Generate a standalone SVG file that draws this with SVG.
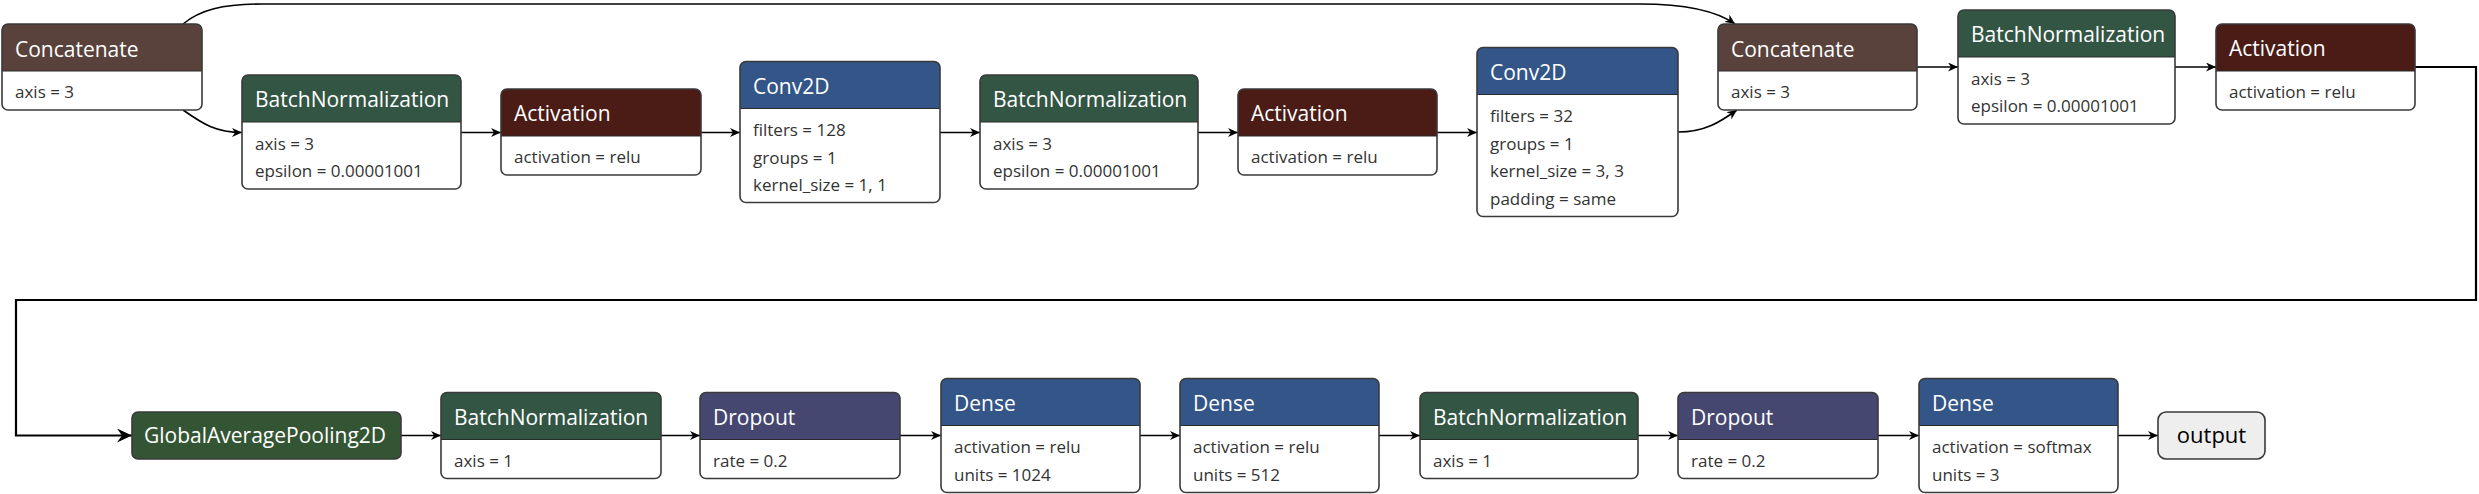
<svg xmlns="http://www.w3.org/2000/svg" width="2479" height="494" viewBox="0 0 2479 494">
<defs>
<style>
.body{fill:#fff;stroke:none}
.frame{fill:none;stroke:#3a3a3a;stroke-width:1.6}
.sep{stroke:#2a2a2a;stroke-width:1.2}
.c-concat{fill:#59423b}
.c-norm{fill:#335544}
.c-act{fill:#4b1b16}
.c-layer{fill:#335588}
.c-drop{fill:#454770}
.c-pool{fill:#335533}
.t{font-family:"Open Sans","Noto Sans",sans-serif;font-size:21px;fill:#fff}
.p{font-family:"Open Sans","Noto Sans",sans-serif;font-size:17px;fill:#333}
.o{font-family:"Open Sans","Noto Sans",sans-serif;font-size:22px;fill:#000;text-anchor:middle}
.edge{fill:none;stroke:#000;stroke-width:1.6}
.edge2{fill:none;stroke:#000;stroke-width:2.2}
</style>
<marker id="arr" markerUnits="userSpaceOnUse" markerWidth="11" markerHeight="9" refX="10" refY="4.5" orient="auto" viewBox="0 0 11 9">
<path d="M0,0 L10,4.5 L0,9 L3,4.5 Z" fill="#000"/>
</marker>
<marker id="arrBig" markerUnits="userSpaceOnUse" markerWidth="16" markerHeight="14" refX="15" refY="7" orient="auto" viewBox="0 0 16 14">
<path d="M0,0 L15,7 L0,14 L5,7 Z" fill="#000"/>
</marker>
</defs>

<g id="edges">
<path class="edge" d="M183,24 C200,10 222,4 262,4 H1640 C1690,4 1718,12 1735,24" marker-end="url(#arr)"/>
<path class="edge" d="M183,110 C203,124 216,132.5 242,132.5" marker-end="url(#arr)"/>
<path class="edge" d="M461,132.5 H501" marker-end="url(#arr)"/>
<path class="edge" d="M701,132.5 H740" marker-end="url(#arr)"/>
<path class="edge" d="M940,132.5 H980" marker-end="url(#arr)"/>
<path class="edge" d="M1198,132.5 H1238" marker-end="url(#arr)"/>
<path class="edge" d="M1437,132.5 H1477" marker-end="url(#arr)"/>
<path class="edge" d="M1678,132 C1705,132 1720,122 1737,110" marker-end="url(#arr)"/>
<path class="edge" d="M1917,67 H1958" marker-end="url(#arr)"/>
<path class="edge" d="M2175,67 H2216" marker-end="url(#arr)"/>
<path class="edge2" d="M2415,67 H2476 V300 H16 V435.5 H132" marker-end="url(#arrBig)"/>
<path class="edge" d="M401,435.5 H441" marker-end="url(#arr)"/>
<path class="edge" d="M661,435.5 H700" marker-end="url(#arr)"/>
<path class="edge" d="M900,435.5 H941" marker-end="url(#arr)"/>
<path class="edge" d="M1140,435.5 H1180" marker-end="url(#arr)"/>
<path class="edge" d="M1379,435.5 H1420" marker-end="url(#arr)"/>
<path class="edge" d="M1638,435.5 H1678" marker-end="url(#arr)"/>
<path class="edge" d="M1878,435.5 H1919" marker-end="url(#arr)"/>
<path class="edge" d="M2118,435.5 H2158" marker-end="url(#arr)"/>
</g>

<g id="concat1" transform="translate(2,24)">
<rect class="body" width="200" height="86" rx="6"/>
<path class="c-concat" d="M0,47 V6 Q0,0 6,0 H194 Q200,0 200,6 V47 Z"/>
<line class="sep" x1="0" y1="47" x2="200" y2="47"/>
<rect class="frame" width="200" height="86" rx="6"/>
<text class="t" x="13" y="33">Concatenate</text>
<text class="p" x="13" y="74">axis = 3</text>
</g>

<g id="bn1" transform="translate(242,75)">
<rect class="body" width="219" height="114" rx="6"/>
<path class="c-norm" d="M0,47 V6 Q0,0 6,0 H213 Q219,0 219,6 V47 Z"/>
<line class="sep" x1="0" y1="47" x2="219" y2="47"/>
<rect class="frame" width="219" height="114" rx="6"/>
<text class="t" x="13" y="32">BatchNormalization</text>
<text class="p" x="13" y="74.5">axis = 3</text>
<text class="p" x="13" y="102">epsilon = 0.00001001</text>
</g>

<g id="act1" transform="translate(501,89)">
<rect class="body" width="200" height="86" rx="6"/>
<path class="c-act" d="M0,47 V6 Q0,0 6,0 H194 Q200,0 200,6 V47 Z"/>
<line class="sep" x1="0" y1="47" x2="200" y2="47"/>
<rect class="frame" width="200" height="86" rx="6"/>
<text class="t" x="13" y="32">Activation</text>
<text class="p" x="13" y="74">activation = relu</text>
</g>

<g id="conv1" transform="translate(740,61.5)">
<rect class="body" width="200" height="141" rx="6"/>
<path class="c-layer" d="M0,47 V6 Q0,0 6,0 H194 Q200,0 200,6 V47 Z"/>
<line class="sep" x1="0" y1="47" x2="200" y2="47"/>
<rect class="frame" width="200" height="141" rx="6"/>
<text class="t" x="13" y="32">Conv2D</text>
<text class="p" x="13" y="74.5">filters = 128</text>
<text class="p" x="13" y="102">groups = 1</text>
<text class="p" x="13" y="129.5">kernel_size = 1, 1</text>
</g>

<g id="bn2" transform="translate(980,75)">
<rect class="body" width="218" height="114" rx="6"/>
<path class="c-norm" d="M0,47 V6 Q0,0 6,0 H212 Q218,0 218,6 V47 Z"/>
<line class="sep" x1="0" y1="47" x2="218" y2="47"/>
<rect class="frame" width="218" height="114" rx="6"/>
<text class="t" x="13" y="32">BatchNormalization</text>
<text class="p" x="13" y="74.5">axis = 3</text>
<text class="p" x="13" y="102">epsilon = 0.00001001</text>
</g>

<g id="act2" transform="translate(1238,89)">
<rect class="body" width="199" height="86" rx="6"/>
<path class="c-act" d="M0,47 V6 Q0,0 6,0 H193 Q199,0 199,6 V47 Z"/>
<line class="sep" x1="0" y1="47" x2="199" y2="47"/>
<rect class="frame" width="199" height="86" rx="6"/>
<text class="t" x="13" y="32">Activation</text>
<text class="p" x="13" y="74">activation = relu</text>
</g>

<g id="conv2" transform="translate(1477,47.5)">
<rect class="body" width="201" height="169" rx="6"/>
<path class="c-layer" d="M0,47 V6 Q0,0 6,0 H195 Q201,0 201,6 V47 Z"/>
<line class="sep" x1="0" y1="47" x2="201" y2="47"/>
<rect class="frame" width="201" height="169" rx="6"/>
<text class="t" x="13" y="32">Conv2D</text>
<text class="p" x="13" y="74.5">filters = 32</text>
<text class="p" x="13" y="102">groups = 1</text>
<text class="p" x="13" y="129.5">kernel_size = 3, 3</text>
<text class="p" x="13" y="157">padding = same</text>
</g>

<g id="concat2" transform="translate(1718,24)">
<rect class="body" width="199" height="86" rx="6"/>
<path class="c-concat" d="M0,47 V6 Q0,0 6,0 H193 Q199,0 199,6 V47 Z"/>
<line class="sep" x1="0" y1="47" x2="199" y2="47"/>
<rect class="frame" width="199" height="86" rx="6"/>
<text class="t" x="13" y="33">Concatenate</text>
<text class="p" x="13" y="74">axis = 3</text>
</g>

<g id="bn3" transform="translate(1958,10)">
<rect class="body" width="217" height="114" rx="6"/>
<path class="c-norm" d="M0,47 V6 Q0,0 6,0 H211 Q217,0 217,6 V47 Z"/>
<line class="sep" x1="0" y1="47" x2="217" y2="47"/>
<rect class="frame" width="217" height="114" rx="6"/>
<text class="t" x="13" y="32">BatchNormalization</text>
<text class="p" x="13" y="74.5">axis = 3</text>
<text class="p" x="13" y="102">epsilon = 0.00001001</text>
</g>

<g id="act3" transform="translate(2216,24)">
<rect class="body" width="199" height="86" rx="6"/>
<path class="c-act" d="M0,47 V6 Q0,0 6,0 H193 Q199,0 199,6 V47 Z"/>
<line class="sep" x1="0" y1="47" x2="199" y2="47"/>
<rect class="frame" width="199" height="86" rx="6"/>
<text class="t" x="13" y="32">Activation</text>
<text class="p" x="13" y="74">activation = relu</text>
</g>

<g id="gap" transform="translate(132,412)">
<rect class="c-pool" width="269" height="47" rx="6"/>
<rect class="frame" width="269" height="47" rx="6"/>
<text class="t" x="12" y="31">GlobalAveragePooling2D</text>
</g>

<g id="bn4" transform="translate(441,392.5)">
<rect class="body" width="220" height="86" rx="6"/>
<path class="c-norm" d="M0,47 V6 Q0,0 6,0 H214 Q220,0 220,6 V47 Z"/>
<line class="sep" x1="0" y1="47" x2="220" y2="47"/>
<rect class="frame" width="220" height="86" rx="6"/>
<text class="t" x="13" y="32">BatchNormalization</text>
<text class="p" x="13" y="74">axis = 1</text>
</g>

<g id="drop1" transform="translate(700,392.5)">
<rect class="body" width="200" height="86" rx="6"/>
<path class="c-drop" d="M0,47 V6 Q0,0 6,0 H194 Q200,0 200,6 V47 Z"/>
<line class="sep" x1="0" y1="47" x2="200" y2="47"/>
<rect class="frame" width="200" height="86" rx="6"/>
<text class="t" x="13" y="32">Dropout</text>
<text class="p" x="13" y="74">rate = 0.2</text>
</g>

<g id="dense1" transform="translate(941,378.5)">
<rect class="body" width="199" height="114" rx="6"/>
<path class="c-layer" d="M0,47 V6 Q0,0 6,0 H193 Q199,0 199,6 V47 Z"/>
<line class="sep" x1="0" y1="47" x2="199" y2="47"/>
<rect class="frame" width="199" height="114" rx="6"/>
<text class="t" x="13" y="32">Dense</text>
<text class="p" x="13" y="74.5">activation = relu</text>
<text class="p" x="13" y="102">units = 1024</text>
</g>

<g id="dense2" transform="translate(1180,378.5)">
<rect class="body" width="199" height="114" rx="6"/>
<path class="c-layer" d="M0,47 V6 Q0,0 6,0 H193 Q199,0 199,6 V47 Z"/>
<line class="sep" x1="0" y1="47" x2="199" y2="47"/>
<rect class="frame" width="199" height="114" rx="6"/>
<text class="t" x="13" y="32">Dense</text>
<text class="p" x="13" y="74.5">activation = relu</text>
<text class="p" x="13" y="102">units = 512</text>
</g>

<g id="bn5" transform="translate(1420,392.5)">
<rect class="body" width="218" height="86" rx="6"/>
<path class="c-norm" d="M0,47 V6 Q0,0 6,0 H212 Q218,0 218,6 V47 Z"/>
<line class="sep" x1="0" y1="47" x2="218" y2="47"/>
<rect class="frame" width="218" height="86" rx="6"/>
<text class="t" x="13" y="32">BatchNormalization</text>
<text class="p" x="13" y="74">axis = 1</text>
</g>

<g id="drop2" transform="translate(1678,392.5)">
<rect class="body" width="200" height="86" rx="6"/>
<path class="c-drop" d="M0,47 V6 Q0,0 6,0 H194 Q200,0 200,6 V47 Z"/>
<line class="sep" x1="0" y1="47" x2="200" y2="47"/>
<rect class="frame" width="200" height="86" rx="6"/>
<text class="t" x="13" y="32">Dropout</text>
<text class="p" x="13" y="74">rate = 0.2</text>
</g>

<g id="dense3" transform="translate(1919,378.5)">
<rect class="body" width="199" height="114" rx="6"/>
<path class="c-layer" d="M0,47 V6 Q0,0 6,0 H193 Q199,0 199,6 V47 Z"/>
<line class="sep" x1="0" y1="47" x2="199" y2="47"/>
<rect class="frame" width="199" height="114" rx="6"/>
<text class="t" x="13" y="32">Dense</text>
<text class="p" x="13" y="74.5">activation = softmax</text>
<text class="p" x="13" y="102">units = 3</text>
</g>

<g id="output" transform="translate(2158,412)">
<rect width="107" height="47" rx="8" fill="#eeeeee"/>
<rect class="frame" width="107" height="47" rx="8"/>
<text class="o" x="53.5" y="31">output</text>
</g>
</svg>
